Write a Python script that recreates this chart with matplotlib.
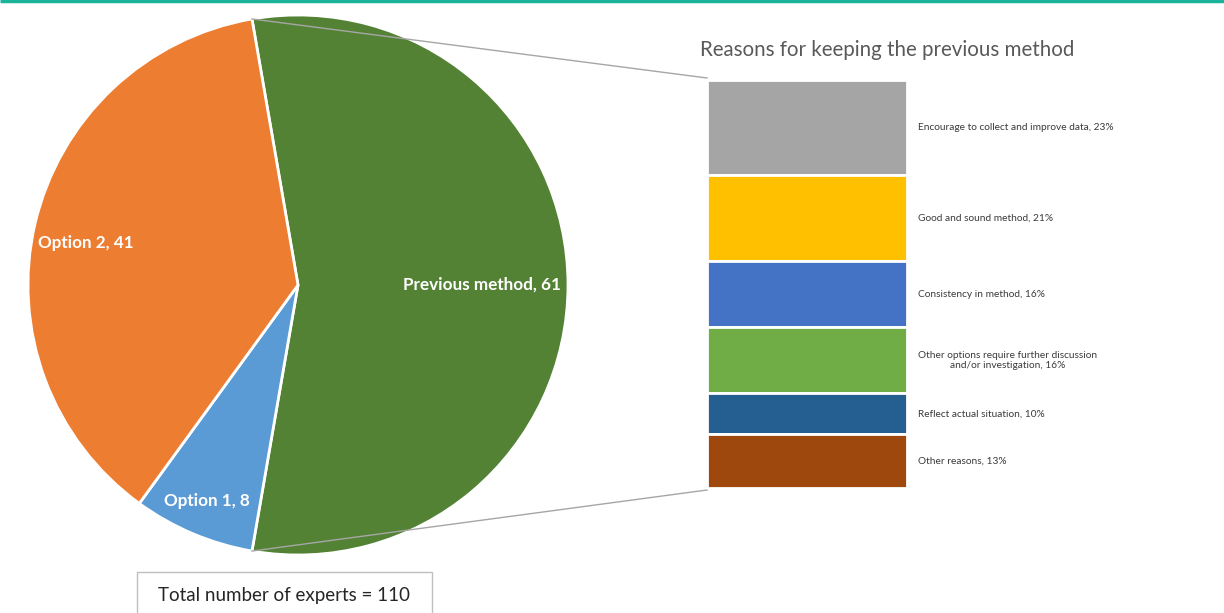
import numpy as np
import matplotlib
matplotlib.use("Agg")
import matplotlib.pyplot as plt
from matplotlib.patches import Rectangle

# ---- data ----
pie_labels = ["Previous method", "Option 1", "Option 2"]
pie_values = [61, 8, 41]
pie_colors = ["#548235", "#5B9BD5", "#ED7D31"]

reason_labels = [
    "Encourage to collect and improve data",
    "Good and sound method",
    "Consistency in method",
    "Other options require further discussion\nand/or investigation",
    "Reflect actual situation",
    "Other reasons",
]
reason_pcts = [23, 21, 16, 16, 10, 13]
reason_colors = ["#A5A5A5", "#FFC000", "#4472C4", "#70AD47", "#255E91", "#9E480E"]

title_text = "Reasons for keeping the previous method"
total_text = "Total number of experts = 110"

FONT = ["Lato", "DejaVu Sans"]
plt.rcParams["font.family"] = FONT

W, H = 1224, 613
fig = plt.figure(figsize=(W / 100, H / 100), dpi=100)
fig.patch.set_facecolor("white")

ax = fig.add_axes([0, 0, 1, 1])
center = (298, H - 285)
radius = 270
total = sum(pie_values)
start = 90 + (pie_values[0] / total * 360 - 180) / 2
wedges, _ = ax.pie(pie_values, colors=pie_colors, startangle=start, counterclock=False,
                   center=center, radius=radius,
                   wedgeprops=dict(edgecolor="white", linewidth=2))
ax.set_xlim(0, W)
ax.set_ylim(0, H)
ax.set_aspect("auto")
ax.axis("off")

label_dist = [0.68, 0.87, 0.80]
label_rot = [0, 0, -1.8]
for w, lab, v, d, r in zip(wedges, pie_labels, pie_values, label_dist, label_rot):
    mid = np.deg2rad((w.theta1 + w.theta2) / 2 - r)
    x = center[0] + d * radius * np.cos(mid)
    y = center[1] + d * radius * np.sin(mid)
    ax.text(x, y, f"{lab}, {v}", color="white", fontsize=12.3, fontweight="bold",
            ha="center", va="center")

# top teal line
ax.plot([0, W], [H - 1, H - 1], color="#1BB49A", lw=2.5, solid_capstyle="butt")

# bar axes
bl, bw = 707, 200
bt, bb = 80, 488
bax = fig.add_axes([bl / W, (H - bb) / H, bw / W, (bb - bt) / H])
bottom = sum(reason_pcts)
for lab, p, c in zip(reason_labels, reason_pcts, reason_colors):
    bottom -= p
    bax.bar(0, p, bottom=bottom, width=1, color=c, edgecolor="white", linewidth=2)
    bax.text(0.555, bottom + p / 2, f"{lab}, {p}%",
             ha="left", va="center", multialignment="center",
             fontsize=7.3, color="#3A3A3A", clip_on=False)
bax.set_xlim(-0.5, 0.5)
bax.set_ylim(0, sum(reason_pcts))
bax.axis("off")

# connector lines from pie split points to bar corners
t_top = np.deg2rad(wedges[0].theta2)
t_bot = np.deg2rad(wedges[0].theta1)
for t, yb in [(t_top, H - 78), (t_bot, H - 490)]:
    ax.plot([center[0] + radius * np.cos(t), bl], [center[1] + radius * np.sin(t), yb],
            color="#A6A6A6", lw=1)

ax.text(700, H - 50, title_text, fontsize=14.8, color="#595959", ha="left", va="center")

ax.add_patch(Rectangle((137, -5), 295, H - 572 + 5, facecolor="white", edgecolor="#BFBFBF", lw=1))
ax.text(284, H - 595, total_text, fontsize=13.5, color="#262626", ha="center", va="center")

fig.savefig("out.png", dpi=100)
